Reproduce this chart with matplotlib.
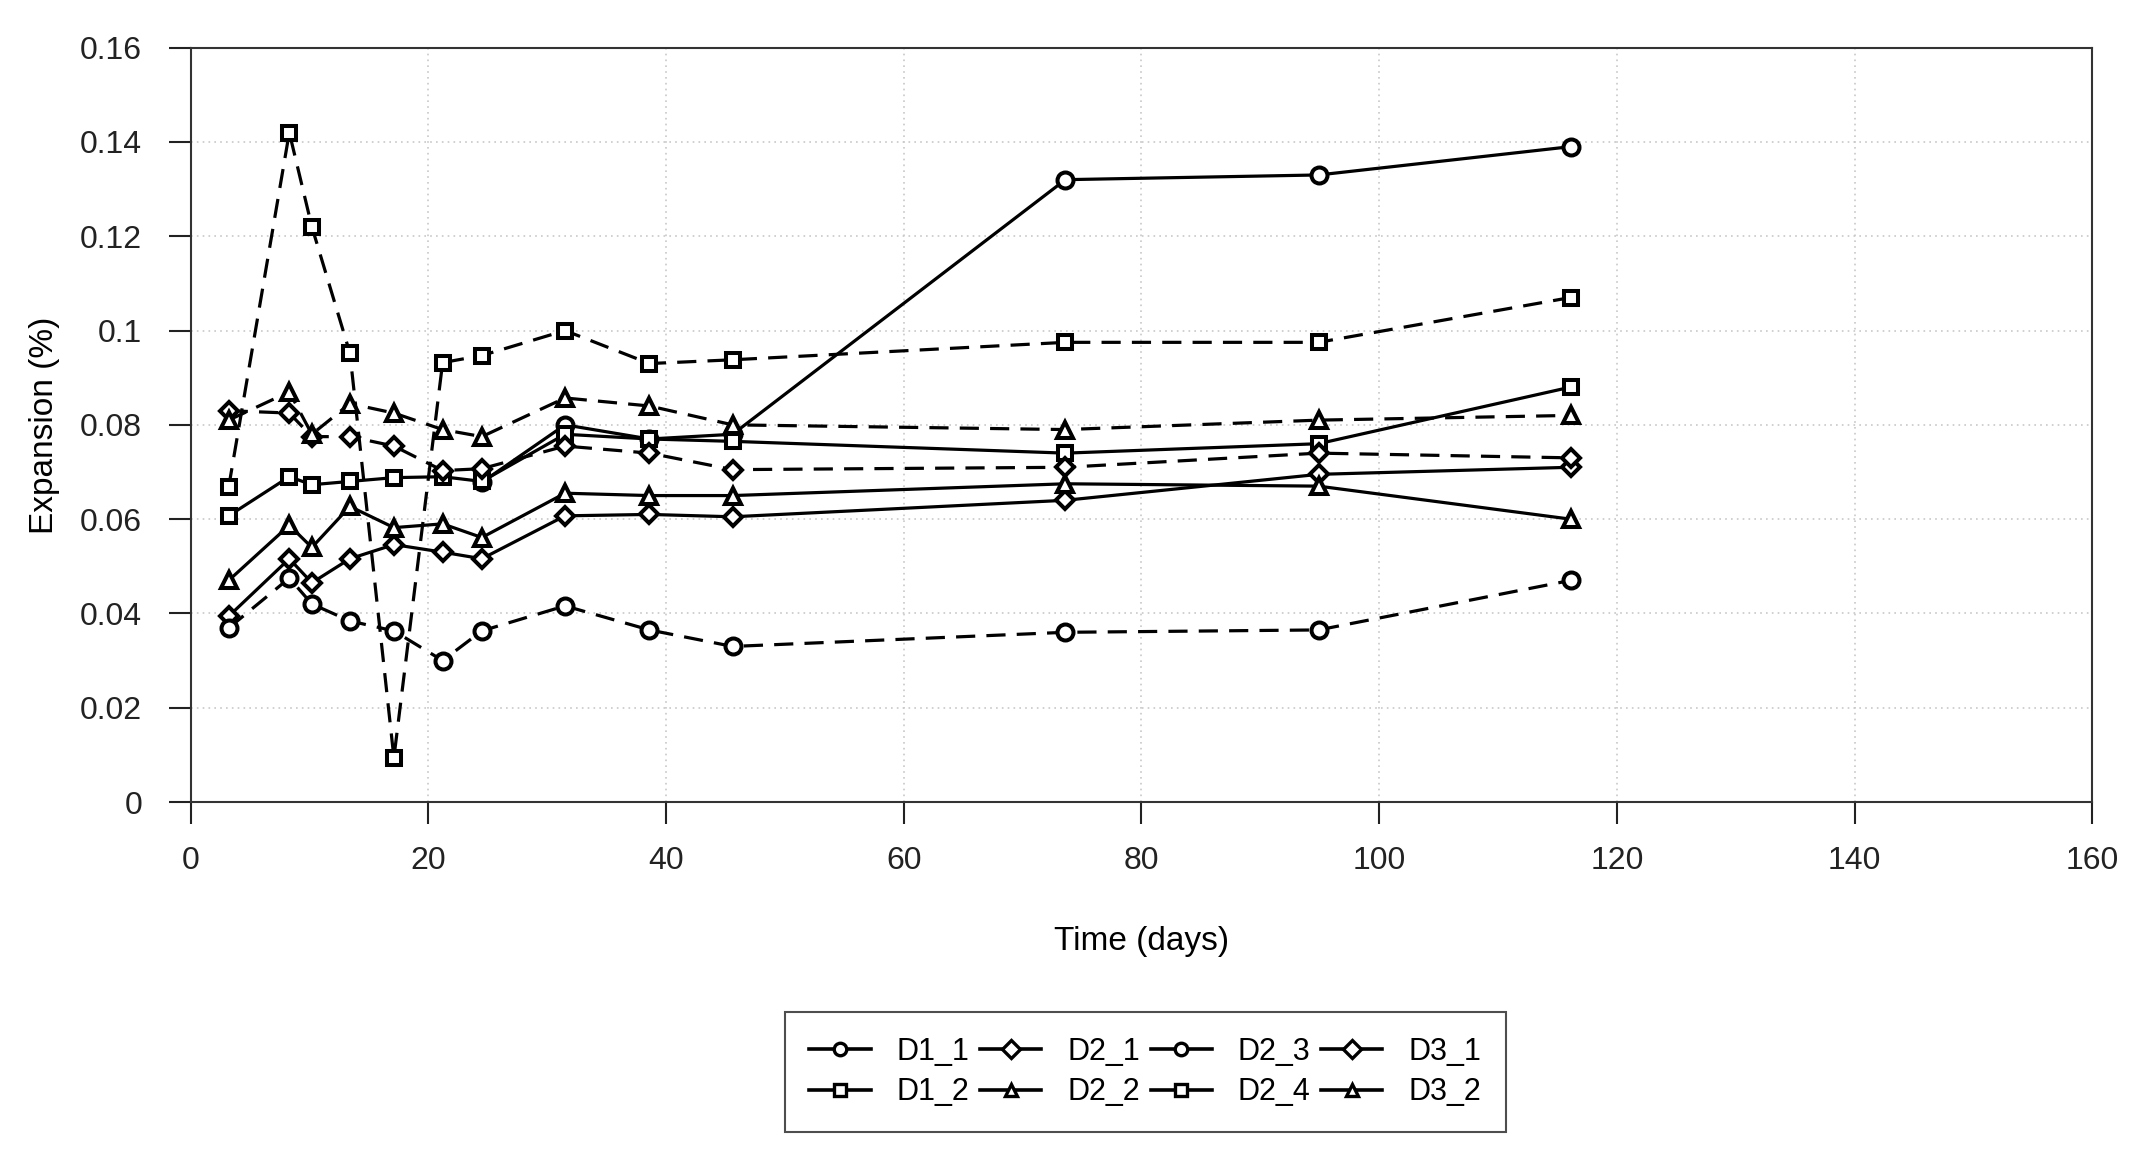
import numpy as np
import matplotlib.pyplot as plt

plt.rcParams['font.family'] = ['Liberation Sans', 'DejaVu Sans']

# days of each reading
t = [3.2, 8.3, 10.2, 13.4, 17.1, 21.2, 24.5, 31.5, 38.6, 45.6, 73.6, 94.9, 116.1]
nan = np.nan

D1_1 = [nan, nan, nan, nan, nan, nan, 0.0678, 0.080, 0.077, 0.078, 0.132, 0.133, 0.139]
D1_2 = [0.0607, 0.069, 0.0673, 0.068, 0.0688, 0.069, 0.068, 0.078, 0.077, 0.0765, 0.074, 0.076, 0.088]
D2_1 = [0.0394, 0.0516, 0.0465, 0.0516, 0.0546, 0.053, 0.0516, 0.0607, 0.061, 0.0605, 0.064, 0.0695, 0.071]
D2_2 = [0.047, 0.0587, 0.054, 0.0627, 0.0582, 0.059, 0.0561, 0.0655, 0.065, 0.065, 0.0675, 0.067, 0.060]
D2_3 = [0.0369, 0.0475, 0.042, 0.0384, 0.0363, 0.030, 0.0363, 0.0416, 0.0365, 0.033, 0.036, 0.0365, 0.047]
D2_4 = [0.0668, 0.142, 0.122, 0.0952, 0.0094, 0.0932, 0.0947, 0.100, 0.093, 0.0938, 0.0975, 0.0975, 0.107]
D3_1 = [0.083, 0.0825, 0.0775, 0.0775, 0.0755, 0.0703, 0.0707, 0.0755, 0.074, 0.0705, 0.071, 0.074, 0.073]
D3_2 = [0.081, 0.087, 0.078, 0.0845, 0.0825, 0.079, 0.0775, 0.0857, 0.084, 0.080, 0.079, 0.081, 0.082]

series = [('D1_1', D1_1, 'o', '-'), ('D1_2', D1_2, 's', '-'),
          ('D2_1', D2_1, 'D', '-'), ('D2_2', D2_2, '^', '-'),
          ('D2_3', D2_3, 'o', '--'), ('D2_4', D2_4, 's', '--'),
          ('D3_1', D3_1, 'D', '--'), ('D3_2', D3_2, '^', '--')]

fig = plt.figure(figsize=(21.35, 11.54), dpi=100)
ax = fig.add_axes([0.0893, 0.305, 0.8907, 0.6537])

for name, y, m, ls in series:
    ms = 11.5 if m != 'D' else 9.5
    if m == 's':
        ms = 10
    line, = ax.plot(t, y, marker=m, linestyle=ls, color='black', lw=2.3,
                    ms=ms, mfc='white', mec='black', mew=2.9, label=name)
    if ls == '--':
        line.set_dashes((6, 3.5))

ax.set_xlim(0, 160)
ax.set_ylim(0, 0.16)
ax.set_xticks(np.arange(0, 161, 20))
ax.set_yticks(np.arange(0, 0.161, 0.02))
ax.set_yticklabels(['0', '0.02', '0.04', '0.06', '0.08', '0.1', '0.12', '0.14', '0.16'])
ax.grid(True, linestyle=(0, (1, 2.5)), color='#c8c8c8', lw=1.2)
ax.set_axisbelow(True)
ax.tick_params(labelsize=23, length=16, width=1.5, direction='out', colors='#222222')
ax.tick_params(axis='x', pad=16)
ax.tick_params(axis='y', pad=19)
for s in ax.spines.values():
    s.set_color('#333333')
    s.set_linewidth(1.5)

ax.set_xlabel('Time (days)', fontsize=24, labelpad=36)
ax.set_ylabel('Expansion (%)', fontsize=24, labelpad=14)

leg = ax.legend(loc='upper center', bbox_to_anchor=(0.502, -0.2785), ncol=4,
                fontsize=22, frameon=True, fancybox=False, handlelength=2.0,
                handletextpad=0.85, columnspacing=0.35, borderpad=0.8,
                labelspacing=0.35, borderaxespad=0)
leg.get_frame().set_edgecolor('#222222')
leg.get_frame().set_linewidth(1.5)
for h in leg.get_lines():
    h.set_linestyle('-')
    h.set_linewidth(2.6)
    h.set_markersize(9)
    h.set_markeredgewidth(2.4)

fig.savefig('out.png', dpi=100)
